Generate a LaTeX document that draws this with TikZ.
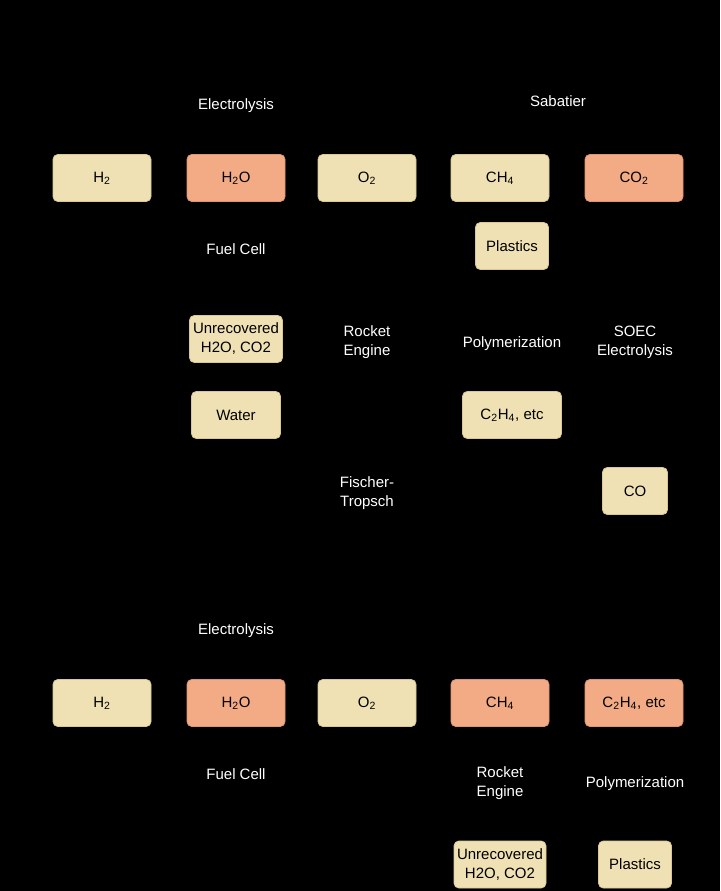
\documentclass[tikz,border=0pt]{standalone}
\usepackage{fontspec}
\setmainfont{Liberation Sans}
\definecolor{paleFill}{HTML}{EFE1B4}
\definecolor{paleLine}{HTML}{D9C896}
\definecolor{hotFill}{HTML}{F3AB86}
\definecolor{hotLine}{HTML}{DD9470}
\newcommand{\chemsub}[1]{\textsubscript{#1}}
\begin{document}
\begin{tikzpicture}[x=0.75pt,y=-0.75pt,
  every node/.style={font=\fontsize{11.25pt}{14.25pt}\selectfont, align=center, inner sep=0pt},
  species/.style={rectangle, rounded corners=3.5pt, draw=paleLine, line width=0.5pt,
    fill=paleFill, text=black, minimum width=73.5pt, minimum height=35.25pt},
  waste/.style={species, draw=hotLine, fill=hotFill},
  smallbox/.style={species, minimum width=#1},
  twoline/.style={text depth=5.5pt},
  process/.style={text=white, yshift=-1.8pt}]
  % canvas
  \fill[black] (0,0) rectangle (720,891);
  \useasboundingbox (0,0) rectangle (720,891);

  % ---- upper loop: water and carbon dioxide recycling ----
  \node[process] (elA) at (236,103) {Electrolysis};
  \node[process] (sab) at (558,99) {Sabatier};

  \node[species] (hA)   at (102,178) {H\chemsub{2}};
  \node[waste]   (wA)   at (236,178) {H\chemsub{2}O};
  \node[species] (oA)   at (367,178) {O\chemsub{2}};
  \node[species] (mA)   at (500,178) {CH\chemsub{4}};
  \node[waste]   (cdA)  at (634,178) {CO\chemsub{2}};

  \node[process] (fcA)  at (236,247) {Fuel Cell};
  \node[smallbox=54.75pt] (plA) at (512,246) {Plastics};

  \node[smallbox=69.75pt] (urA) at (236,339) {Unrecovered\\H2O, CO2};
  \node[process] (reA)  at (367,340) {Rocket\\Engine};
  \node[process] (poA)  at (512,341) {Polymerization};
  \node[process] (soec) at (635,340) {SOEC\\Electrolysis};

  \node[smallbox=66.75pt] (wat) at (236,415) {Water};
  \node[smallbox=74.25pt] (etA) at (512,415) {C\chemsub{2}H\chemsub{4}, etc};

  \node[process] (ft)   at (367,491) {Fischer-\\Tropsch};
  \node[smallbox=48.75pt] (co) at (635,491) {CO};

  % ---- lower loop: methane and ethylene feedstock ----
  \node[process] (elB) at (236,628) {Electrolysis};

  \node[species] (hB)  at (102,703) {H\chemsub{2}};
  \node[waste]   (wB)  at (236,703) {H\chemsub{2}O};
  \node[species] (oB)  at (367,703) {O\chemsub{2}};
  \node[waste]   (mB)  at (500,703) {CH\chemsub{4}};
  \node[waste]   (etB) at (634,703) {C\chemsub{2}H\chemsub{4}, etc};

  \node[process] (fcB) at (236,772) {Fuel Cell};
  \node[process] (reB) at (500,781) {Rocket\\Engine};
  \node[process] (poB) at (635,781) {Polymerization};

  \node[smallbox=69pt] (urB) at (500,864.5) {Unrecovered\\H2O, CO2};
  \node[smallbox=54.75pt] (plB) at (635,864.5) {Plastics};
\end{tikzpicture}
\end{document}
